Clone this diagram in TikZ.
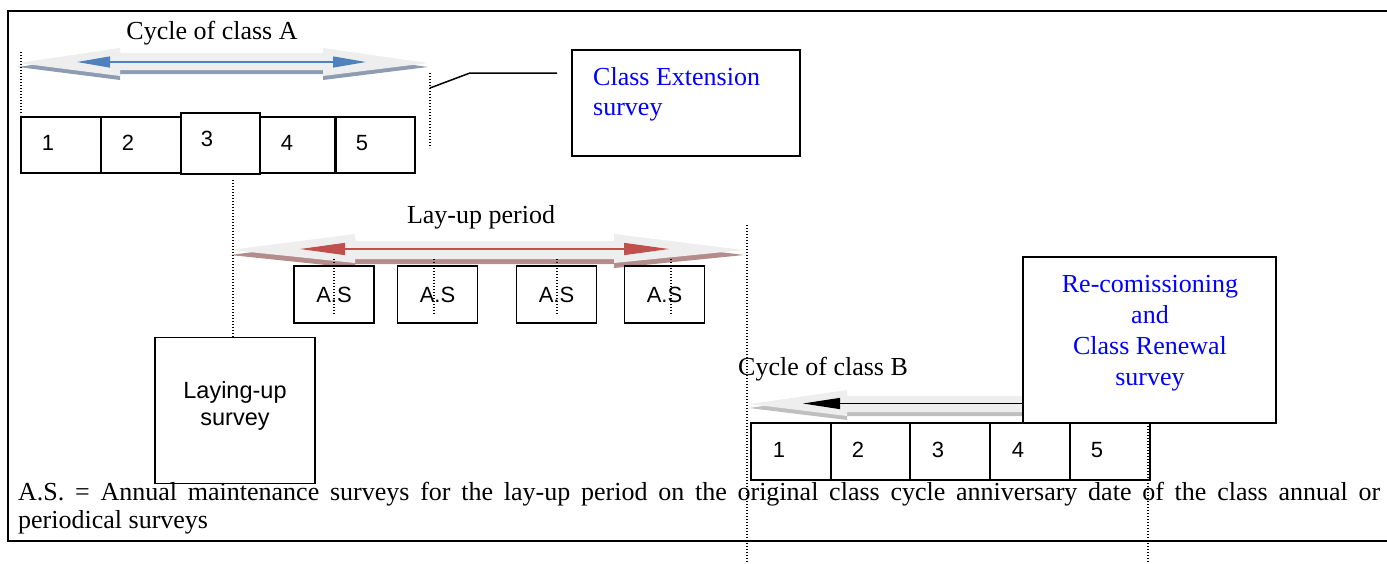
\documentclass[tikz,border=0pt]{standalone}
\usepackage{fontspec}
\setmainfont{Liberation Serif}
\setsansfont{Liberation Sans}
\usetikzlibrary{arrows.meta}
\definecolor{lightfill}{HTML}{EEEEEE}
\definecolor{shadowA}{HTML}{8E9CB2}
\definecolor{shadowL}{HTML}{B48C8C}
\definecolor{shadowB}{HTML}{BFBFBF}
\definecolor{blueA}{HTML}{4F81BD}
\definecolor{redL}{HTML}{C0504D}
\definecolor{txtblue}{RGB}{0,0,255}
\begin{document}
\begin{tikzpicture}[x=1pt,y=-1pt,
  boxn/.style={draw=black, line width=1.4pt, inner sep=0pt, fill=white},
  numtxt/.style={font=\fontsize{22}{26}\sffamily, inner sep=0pt},
  sanstxt/.style={font=\fontsize{23.5}{28}\sffamily, inner sep=0pt},
  sertxt/.style={font=\fontsize{26}{31}\selectfont, inner sep=0pt},
  dotl/.style={line width=1.4pt, dash pattern=on 1.3pt off 1.7pt},
  frameline/.style={line width=2pt},
  conn/.style={line width=1.5pt}]
\useasboundingbox (0,0) rectangle (1387,563);

% frame
\draw[frameline] (1387,11) -- (8,11) -- (8,541) -- (1387,541);

% ---------- Cycle of class A ----------
\node[sertxt, anchor=base] (cycA) at (212,39) {Cycle of class A};
\fill[shadowA, yshift=-4pt] (18,63) -- (120,48) -- (120,53) -- (323,53) -- (323,48) -- (428,63) -- (323,76) -- (323,70) -- (120,70) -- (120,76) -- cycle;
\fill[lightfill] (18,63) -- (120,48) -- (120,53) -- (323,53) -- (323,48) -- (428,63) -- (323,76) -- (323,70) -- (120,70) -- (120,76) -- cycle;
\coordinate (bA1) at (77,62);
\coordinate (bA2) at (366,62);
\draw[blueA, line width=1.2pt, {Triangle[length=33pt,width=11pt]}-{Triangle[length=33pt,width=11pt]}] (bA1) -- (bA2);

\node[boxn, minimum width=80pt, minimum height=56pt] (a1) at (61,145) {};
\node[boxn, minimum width=80pt, minimum height=56pt] (a2) at (141,145) {};
\node[boxn, minimum width=75pt, minimum height=56pt] (a4) at (297.5,145) {};
\node[boxn, minimum width=79pt, minimum height=56pt] (a5) at (375.5,145) {};
\node[boxn, minimum width=79pt, minimum height=61pt] (a3) at (220.5,143.5) {};
\node[numtxt, anchor=base] (na1) at (48,150) {1};
\node[numtxt, anchor=base] (na2) at (128,150) {2};
\node[numtxt, anchor=base] (na3) at (207,146) {3};
\node[numtxt, anchor=base] (na4) at (287,150) {4};
\node[numtxt, anchor=base] (na5) at (362,150) {5};

\coordinate (dA1t) at (21,52);  \coordinate (dA1b) at (21,115);
\coordinate (dA2t) at (430,73); \coordinate (dA2b) at (430,148);
\draw[dotl] (dA1t) -- (dA1b);
\draw[dotl] (dA2t) -- (dA2b);

% Class extension survey
\node[boxn, minimum width=228pt, minimum height=106pt] (ext) at (686,103) {};
\node[sertxt, text=txtblue, anchor=base west] (ext1) at (593,85) {Class Extension};
\node[sertxt, text=txtblue, anchor=base west] (ext2) at (593,115) {survey};
\coordinate (cA) at (430,88);
\coordinate (cBend) at (470,73);
\coordinate (cE) at (557,73);
\draw[conn] (cA) -- (cBend) -- (cE);

% ---------- Lay-up period ----------
\node[sertxt, anchor=base] (lay) at (481,223) {Lay-up period};
\fill[shadowL, yshift=-5pt] (230,250) -- (355,234) -- (355,241) -- (614,241) -- (614,234) -- (744,250) -- (614,263) -- (614,259) -- (355,259) -- (355,263) -- cycle;
\fill[lightfill] (230,250) -- (355,234) -- (355,241) -- (614,241) -- (614,234) -- (744,250) -- (614,263) -- (614,259) -- (355,259) -- (355,263) -- cycle;
\coordinate (rL1) at (300,249);
\coordinate (rL2) at (669,249);
\draw[redL, line width=1.2pt, {Triangle[length=45pt,width=12pt]}-{Triangle[length=45pt,width=12pt]}] (rL1) -- (rL2);

\node[boxn, minimum width=80pt, minimum height=57pt] (as1) at (334,294.5) {};
\node[boxn, minimum width=80pt, minimum height=57pt] (as2) at (437.5,294.5) {};
\node[boxn, minimum width=80pt, minimum height=57pt] (as3) at (556.5,294.5) {};
\node[boxn, minimum width=80pt, minimum height=57pt] (as4) at (664.5,294.5) {};
\node[numtxt] (ast1) at (as1) {A.S};
\node[numtxt] (ast2) at (as2) {A.S};
\node[numtxt] (ast3) at (as3) {A.S};
\node[numtxt] (ast4) at (as4) {A.S};
\coordinate (dS1t) at (334,259); \coordinate (dS1b) at (334,314);
\coordinate (dS2t) at (434,259); \coordinate (dS2b) at (434,314);
\coordinate (dS3t) at (557,259); \coordinate (dS3b) at (557,314);
\coordinate (dS4t) at (671,259); \coordinate (dS4b) at (671,314);
\draw[dotl] (dS1t) -- (dS1b);
\draw[dotl] (dS2t) -- (dS2b);
\draw[dotl] (dS3t) -- (dS3b);
\draw[dotl] (dS4t) -- (dS4b);

% Laying-up survey
\node[boxn, minimum width=160pt, minimum height=146pt] (lus) at (235,410.5) {};
\node[sanstxt, anchor=base] (lus1) at (235,398) {Laying-up};
\node[sanstxt, anchor=base] (lus2) at (235,425) {survey};
\coordinate (dLt) at (233,180);
\draw[dotl] (dLt) -- (lus.north -| dLt);

% ---------- Cycle of class B ----------
\node[sertxt, anchor=base west] (cycB) at (738,375) {Cycle of class B};
\fill[shadowB, yshift=-4pt] (749,404) -- (847,390) -- (847,396) -- (1030,396) -- (1030,412) -- (847,412) -- (847,416) -- cycle;
\fill[lightfill] (749,404) -- (847,390) -- (847,396) -- (1030,396) -- (1030,412) -- (847,412) -- (847,416) -- cycle;
\coordinate (kB1) at (1023,403.5);
\coordinate (kB2) at (803,403.5);
\draw[line width=1.2pt, -{Triangle[length=37pt,width=11pt]}] (kB1) -- (kB2);

\node[boxn, minimum width=80pt, minimum height=57pt] (b1) at (791,451.5) {};
\node[boxn, minimum width=79pt, minimum height=57pt] (b2) at (870.5,451.5) {};
\node[boxn, minimum width=80pt, minimum height=57pt] (b3) at (950,451.5) {};
\node[boxn, minimum width=80pt, minimum height=57pt] (b4) at (1030,451.5) {};
\node[boxn, minimum width=80pt, minimum height=57pt] (b5) at (1110,451.5) {};
\node[numtxt, anchor=base] (nb1) at (779,457) {1};
\node[numtxt, anchor=base] (nb2) at (858,457) {2};
\node[numtxt, anchor=base] (nb3) at (938,457) {3};
\node[numtxt, anchor=base] (nb4) at (1018,457) {4};
\node[numtxt, anchor=base] (nb5) at (1097,457) {5};

% Re-commissioning box
\node[boxn, minimum width=253pt, minimum height=166pt] (rc) at (1149.5,340) {};
\node[sertxt, text=txtblue, anchor=base] (rc1) at (1150,292) {Re-comissioning};
\node[sertxt, text=txtblue, anchor=base] (rc2) at (1150,323) {and};
\node[sertxt, text=txtblue, anchor=base] (rc3) at (1150,354) {Class Renewal};
\node[sertxt, text=txtblue, anchor=base] (rc4) at (1150,385) {survey};

% footer
\node[sertxt, anchor=base west] (foot1) at (18,500) {\makebox[1362pt][s]{A.S. = Annual maintenance surveys for the lay-up period on the original class cycle anniversary date of the class annual or}};
\node[sertxt, anchor=base west] (foot2) at (18,528) {periodical surveys};

% long dotted lines
\coordinate (dBLt) at (747,225); \coordinate (dBLb) at (747,563);
\coordinate (dBRt) at (1148,423); \coordinate (dBRb) at (1148,563);
\draw[dotl] (dBLt) -- (dBLb);
\draw[dotl] (dBRt) -- (dBRb);
\end{tikzpicture}
\end{document}
